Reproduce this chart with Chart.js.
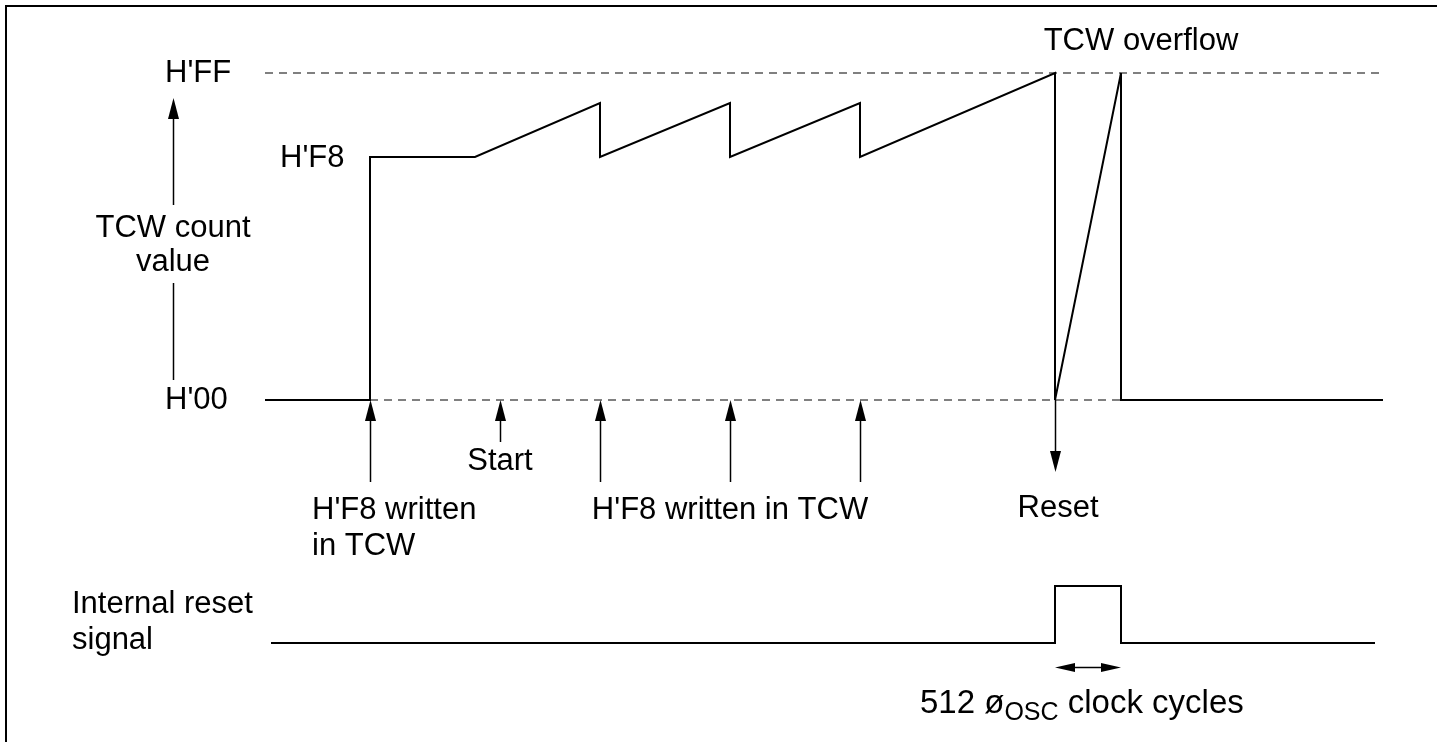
<!DOCTYPE html>
<html><head><meta charset="utf-8">
<script src="https://cdn.jsdelivr.net/npm/chart.js@4.4.1/dist/chart.umd.min.js"></script>
<style>
html,body{margin:0;padding:0;background:#fff;overflow:hidden}
#wrap{position:relative;width:1437px;height:742px;background:#fff}
#frame{position:absolute;left:5px;top:5px;width:1440px;height:745px;border-left:2px solid #000;border-top:2px solid #000;pointer-events:none}
canvas{position:absolute;left:0;top:0}
</style></head><body>
<div id="wrap"><canvas id="c" width="1437" height="742"></canvas><div id="frame"></div></div>
<script>
// Time axis (arbitrary diagram time units) and levels (diagram level units, H'00 = 0, H'FF = 327)
const counterTime  = [265, 370, 370, 475, 600, 600, 730, 730, 860, 860, 1055, 1055, 1121, 1121, 1383];
const counterLevel = [0,   0,   243, 243, 297, 243, 297, 243, 297, 243, 327,  0,    327,  0,    0];
const resetTime    = [271, 1055, 1055, 1121, 1121, 1375];
const resetLevel   = [-243, -243, -186, -186, -243, -243];
const levelFF = 327, levelF8 = 243, level00 = 0;
const refFFTime = [265, 1381];
const ref00Time = [370, 1121];

// arrow annotations: [x, fromLevel, toLevel(tip), hasHead]
const vArrows = [
  [173, 195, 302, true],
  [173, 117, 20, false],
  [370, -82, 0, true],
  [500, -42, 0, true],
  [600, -82, 0, true],
  [730, -82, 0, true],
  [860, -82, 0, true],
  [1055, 0, -72, true]
];
// double-headed horizontal arrow: [fromTime, toTime, level]
const hArrows = [[1055, 1121, -267]];

// labels: [text, time, level, align]
const labels = [
  ["H'FF", 165, 327, 'left'],
  ["H'F8", 280, 242, 'left'],
  ["H'00", 165, 0, 'left'],
  ["TCW count", 173, 172, 'center'],
  ["value", 173, 138, 'center'],
  ["Start", 500, -61, 'center'],
  ["H'F8 written", 312, -110, 'left'],
  ["in TCW", 312, -146, 'left'],
  ["H'F8 written in TCW", 730, -110, 'center'],
  ["Reset", 1058, -108, 'center'],
  ["TCW overflow", 1141, 359, 'center'],
  ["Internal reset", 72, -204, 'left'],
  ["signal", 72, -240, 'left']
];
const clockLabel = {time: 920, level: -313, parts: ["512 ø", "OSC", " clock cycles"]};

const pts = (xs, ys) => xs.map((x, i) => ({x, y: ys[i]}));
const FONT = '"Liberation Sans", Arial, sans-serif';

const annot = {
  id: 'annot',
  afterDatasetsDraw(chart) {
    const ctx = chart.ctx, xs = chart.scales.x, ys = chart.scales.y;
    ctx.save();
    ctx.strokeStyle = '#000'; ctx.fillStyle = '#000'; ctx.lineWidth = 1.5;
    const head = (tx, ty, dx, dy, L, W) => {
      ctx.beginPath();
      ctx.moveTo(tx, ty);
      ctx.lineTo(tx - dx * L - dy * W, ty - dy * L + dx * W);
      ctx.lineTo(tx - dx * L + dy * W, ty - dy * L - dx * W);
      ctx.closePath(); ctx.fill();
    };
    vArrows.forEach(([x, a, b, h]) => {
      const px = Math.round(xs.getPixelForValue(x)) + 0.5;
      const y1 = ys.getPixelForValue(a), y2 = ys.getPixelForValue(b);
      const dir = Math.sign(y2 - y1);
      ctx.beginPath(); ctx.moveTo(px, y1); ctx.lineTo(px, h ? y2 - dir * 10 : y2); ctx.stroke();
      if (h) head(px, y2, 0, dir, 21, 5.5);
    });
    hArrows.forEach(([a, b, l]) => {
      const x1 = xs.getPixelForValue(a), x2 = xs.getPixelForValue(b);
      const py = Math.round(ys.getPixelForValue(l)) + 0.5;
      ctx.beginPath(); ctx.moveTo(x1 + 10, py); ctx.lineTo(x2 - 10, py); ctx.stroke();
      head(x2, py, 1, 0, 20, 4.5);
      head(x1, py, -1, 0, 20, 4.5);
    });
    ctx.font = '31px ' + FONT;
    ctx.textBaseline = 'middle';
    labels.forEach(([t, x, l, al]) => {
      ctx.textAlign = al;
      ctx.fillText(t, xs.getPixelForValue(x), ys.getPixelForValue(l));
    });
    // composite label with subscript
    ctx.textAlign = 'left'; ctx.textBaseline = 'alphabetic';
    let cx = xs.getPixelForValue(clockLabel.time);
    const by = ys.getPixelForValue(clockLabel.level);
    const [p1, p2, p3] = clockLabel.parts;
    ctx.font = '33px ' + FONT; ctx.fillText(p1, cx, by); cx += ctx.measureText(p1).width;
    ctx.font = '25px ' + FONT; ctx.fillText(p2, cx, by + 7); cx += ctx.measureText(p2).width;
    ctx.font = '33px ' + FONT; ctx.fillText(p3, cx, by);
    ctx.restore();
  }
};

new Chart(document.getElementById('c'), {
  type: 'scatter',
  data: {
    datasets: [
      {data: pts(counterTime, counterLevel), showLine: true, borderColor: '#000', borderWidth: 2, pointRadius: 0, order: 1},
      {data: pts(resetTime, resetLevel), showLine: true, borderColor: '#000', borderWidth: 2, pointRadius: 0, order: 1},
      {data: pts(refFFTime, [levelFF, levelFF]), showLine: true, borderColor: '#808080', borderWidth: 2, borderDash: [8, 6], pointRadius: 0, order: 3},
      {data: pts(ref00Time, [level00, level00]), showLine: true, borderColor: '#808080', borderWidth: 2, borderDash: [8, 6], pointRadius: 0, order: 3}
    ]
  },
  options: {
    responsive: false, animation: false, devicePixelRatio: 1, events: [],
    layout: {padding: 0},
    plugins: {legend: {display: false}, tooltip: {enabled: false}},
    scales: {
      x: {type: 'linear', min: 0, max: 1437, display: false},
      y: {type: 'linear', min: -342, max: 400, display: false}
    }
  },
  plugins: [annot]
});
</script>
</body></html>
